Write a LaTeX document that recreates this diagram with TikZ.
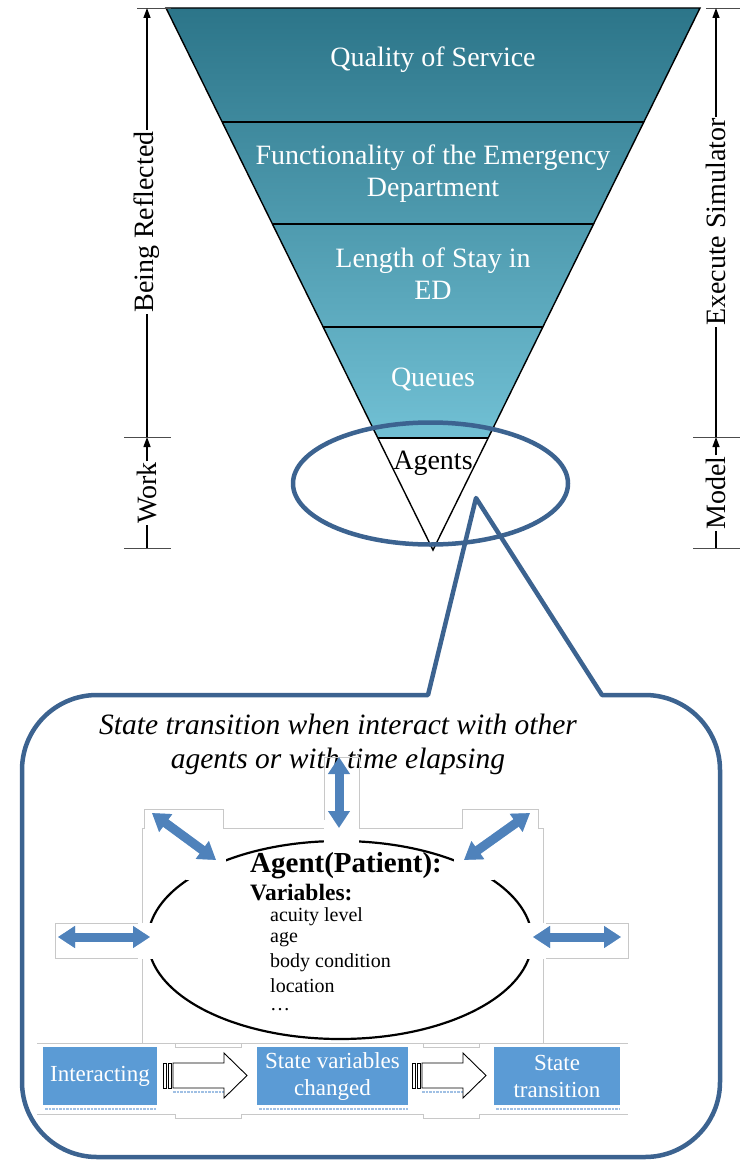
\documentclass[tikz,border=0pt]{standalone}
\usepackage{fontspec}
\setmainfont{Liberation Serif}
\usetikzlibrary{arrows.meta,shapes.geometric,calc}
\definecolor{tealtop}{RGB}{44,117,137}
\definecolor{tealbot}{RGB}{113,192,212}
\definecolor{callblue}{RGB}{60,99,144}
\definecolor{arrblue}{RGB}{79,130,187}
\definecolor{boxblue}{RGB}{91,155,213}
\definecolor{outgray}{RGB}{200,200,200}
\definecolor{shadowblue}{RGB}{160,192,228}
\begin{document}
\begin{tikzpicture}[x=1pt,y=-1pt,
  lvl/.style={text=white,font=\fontsize{28}{32}\selectfont,align=center,inner sep=0pt},
  side/.style={font=\fontsize{28}{32}\selectfont,rotate=90,inner sep=1pt},
  tick/.style={line width=0.8pt,black!70},
  sideline/.style={line width=1.3pt},
  sidearrow/.style={line width=1.3pt,-{Triangle[length=10pt,width=7pt]}},
  callout/.style={draw=callblue,line width=4.5pt,line join=round},
  blockarrow/.style={draw=arrblue,line width=9pt,{Triangle[length=17pt,width=21pt]}-{Triangle[length=17pt,width=21pt]}},
  arrshadow/.style={draw=shadowblue,line width=9pt,densely dotted,{Triangle[length=17pt,width=21pt]}-{Triangle[length=17pt,width=21pt]}},
  bluebox/.style={fill=boxblue,text=white,font=\fontsize{23}{27}\selectfont,align=center,inner sep=0pt},
  vartext/.style={anchor=west,inner sep=0pt,font=\fontsize{20}{23}\selectfont},
  openarrow/.style={draw=black,fill=white,line width=0.9pt},
  outline/.style={draw=outgray,line width=0.8pt},
  fringe/.style={draw=shadowblue,densely dotted,line width=2.5pt}
]
\useasboundingbox (0,0) rectangle (742,1161);

% ---------- pyramid ----------
\coordinate (TL) at (166,8);
\coordinate (TR) at (700,8);
\coordinate (AP) at (433,550);
\coordinate (L1) at ($(TL)!0.2103!(AP)$);
\coordinate (R1) at ($(TR)!0.2103!(AP)$);
\coordinate (L2) at ($(TL)!0.3985!(AP)$);
\coordinate (R2) at ($(TR)!0.3985!(AP)$);
\coordinate (L3) at ($(TL)!0.5886!(AP)$);
\coordinate (R3) at ($(TR)!0.5886!(AP)$);
\coordinate (L4) at ($(TL)!0.7934!(AP)$);
\coordinate (R4) at ($(TR)!0.7934!(AP)$);
\shade[top color=tealtop,bottom color=tealbot] (TL) -- (TR) -- (R4) -- (L4) -- cycle;
\draw[line width=1.4pt,line join=miter] (TL) -- (TR) -- (AP) -- cycle;
\draw[line width=1.4pt] (L1) -- (R1);
\draw[line width=1.4pt] (L2) -- (R2);
\draw[line width=1.4pt] (L3) -- (R3);
\draw[line width=1.4pt] (L4) -- (R4);

\node[lvl] (qos) at (433,60) {Quality of Service};
\node[lvl] (fun) at (433,174) {Functionality of the Emergency\\Department};
\node[lvl] (los) at (433,274) {Length of Stay in\\ED};
\node[lvl] (que) at (433,379) {Queues};
\node[lvl,text=black] (agt) at (433,463) {Agents};

% ---------- side arrows ----------
\coordinate (lt) at (147,8);
\coordinate (lm) at (147,437);
\coordinate (lb) at (147,548);
\draw[tick] (137,8) -- (171,8);
\draw[tick] (124,437) -- (171,437);
\draw[tick] (124,548) -- (171,548);
\node[side] (refl) at (147,222) {Being Reflected};
\node[side] (work) at (147,493) {Work};
\draw[sideline] (lb) -- (work);
\draw[sidearrow] (work) -- (lm);
\draw[sideline] (lm) -- (refl);
\draw[sidearrow] (refl) -- (lt);

\coordinate (rt) at (716,8);
\coordinate (rm) at (716,437);
\coordinate (rb) at (716,548);
\draw[tick] (706,8) -- (740,8);
\draw[tick] (693,437) -- (740,437);
\draw[tick] (693,548) -- (740,548);
\node[side] (exe) at (716,222) {Execute Simulator};
\node[side] (mod) at (716,493) {Model};
\draw[sideline] (rb) -- (mod);
\draw[sidearrow] (mod) -- (rm);
\draw[sideline] (rm) -- (exe);
\draw[sidearrow] (exe) -- (rt);

% ---------- highlight ellipse and callout ----------
\node[draw=callblue,line width=4.5pt,ellipse,minimum width=275pt,minimum height=122pt,inner sep=0pt] (sel) at (430.5,483.5) {};
\draw[callout] (476,498) -- (602,695) -- (645,695)
  arc[start angle=90,end angle=0,radius=75pt] -- (720,1082)
  arc[start angle=0,end angle=-90,radius=75pt] -- (97,1157)
  arc[start angle=270,end angle=180,radius=75pt] -- (22,770)
  arc[start angle=180,end angle=90,radius=75pt] -- (428,695) -- cycle;

\node[font=\itshape\fontsize{29.5}{34}\selectfont,align=center,inner sep=0pt] (cap) at (338,744)
  {State transition when interact with other\\agents or with time elapsing};

% ---------- inner figure outline ----------
\draw[outline] (144,809) -- (223,809) -- (223,828) -- (324,828) -- (324,757) -- (359,757)
  -- (359,828) -- (462,828) -- (462,809) -- (538,809) -- (538,828) -- (543,828)
  -- (543,923) -- (628,923) -- (628,958) -- (543,958) -- (543,1043)
  -- (142,1043) -- (142,958) -- (55,958) -- (55,923) -- (142,923) -- (142,828) -- (144,828) -- cycle;
\draw[outline] (37,1043) -- (628,1043);
\draw[outline] (37,1114) -- (175,1114) -- (175,1118) -- (241,1118) -- (241,1114)
  -- (423,1114) -- (423,1118) -- (479,1118) -- (479,1114) -- (628,1114);
\draw[outline] (175,1043) -- (175,1047) -- (241,1047) -- (241,1043);
\draw[outline] (423,1043) -- (423,1047) -- (479,1047) -- (479,1043);

% ---------- agent ellipse ----------
\node[draw,ellipse,line width=2.2pt,minimum width=384pt,minimum height=198pt,inner sep=0pt] (ag) at (340,940) {};
\fill[white] (324,820) rectangle (359,852);
\fill[white] (186,838) rectangle (226,880);
\fill[white] (454,838) rectangle (494,880);
\fill[white] (138,923) rectangle (156,959);
\fill[white] (524,923) rectangle (546,959);

% ---------- interaction arrows ----------
\coordinate (va1) at (339,757);
\coordinate (va2) at (339,828);
\coordinate (ula1) at (152,813);
\coordinate (ula2) at (216,860);
\coordinate (ura1) at (530,813);
\coordinate (ura2) at (464,860);
\coordinate (la1) at (58,937);
\coordinate (la2) at (150,937);
\coordinate (ra1) at (533,937);
\coordinate (ra2) at (621,937);
\begin{scope}[shift={(1.5,3.5)}]
\draw[arrshadow] (ula1) -- (ula2);
\draw[arrshadow] (ura1) -- (ura2);
\draw[arrshadow] (la1) -- (la2);
\draw[arrshadow] (ra1) -- (ra2);
\end{scope}
\draw[blockarrow] (va1) -- (va2);
\draw[blockarrow] (ula1) -- (ula2);
\draw[blockarrow] (ura1) -- (ura2);
\draw[blockarrow] (la1) -- (la2);
\draw[blockarrow] (ra1) -- (ra2);

% ---------- agent text ----------
\node[font=\bfseries\fontsize{29}{32}\selectfont,anchor=west,inner sep=0pt] (agtitle) at (250,866) {Agent(Patient):};
\node[font=\bfseries\fontsize{23.5}{26}\selectfont,anchor=west,inner sep=0pt] (vars) at (250,893) {Variables:};
\node[vartext] (v1) at (270,917) {acuity level};
\node[vartext] (v2) at (270,940) {age};
\node[vartext] (v3) at (270,963) {body condition};
\node[vartext] (v4) at (270,986) {location};
\node[vartext] (v5) at (270,1010) {\ldots};

% ---------- bottom process row ----------
\draw[fringe] (45,1109) -- (157,1109);
\draw[fringe] (259,1109) -- (408,1109);
\draw[fringe] (496,1109) -- (620,1109);
\draw[fringe] (173,1092) -- (224,1092);
\draw[fringe] (422,1092) -- (463,1092);
\node[bluebox,minimum width=114pt,minimum height=58pt] (b1) at (100,1076) {Interacting};
\node[bluebox,minimum width=151pt,minimum height=58pt] (b2) at (332.5,1076) {State variables\\changed};
\node[bluebox,minimum width=126pt,minimum height=58pt] (b3) at (557,1076) {State\\transition};

\draw[openarrow] (163,1063) rectangle (166,1088);
\draw[openarrow] (168,1063) rectangle (171,1088);
\draw[openarrow] (173,1063) -- (224,1063) -- (224,1053) -- (247,1075.5) -- (224,1098) -- (224,1088) -- (173,1088) -- cycle;
\draw[openarrow] (412,1063) rectangle (415,1088);
\draw[openarrow] (417,1063) rectangle (420,1088);
\draw[openarrow] (422,1063) -- (463,1063) -- (463,1053) -- (486,1075.5) -- (463,1098) -- (463,1088) -- (422,1088) -- cycle;
\end{tikzpicture}
\end{document}
